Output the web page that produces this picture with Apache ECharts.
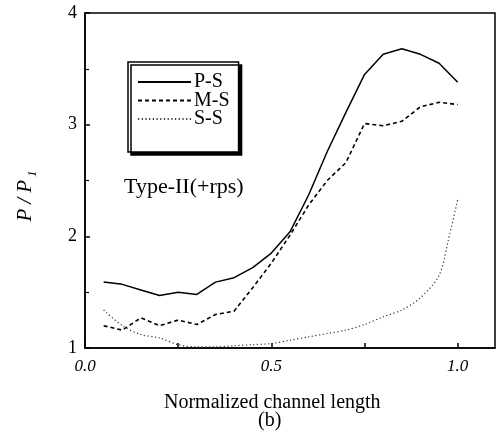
<!DOCTYPE html>
<html><head><meta charset="utf-8">
<script src="https://cdn.jsdelivr.net/npm/echarts@6/dist/echarts.min.js"></script>
<style>html,body{margin:0;padding:0;background:#fff}#c{width:501px;height:438px}</style>
</head><body><div id="c"></div>
<script>
const xPS = [0.05,0.1,0.15,0.2,0.25,0.3,0.35,0.4,0.45,0.5,0.55,0.6,0.65,0.7,0.75,0.8,0.85,0.9,0.95,1.0];
const valPS = [1.59,1.57,1.52,1.47,1.50,1.48,1.59,1.63,1.72,1.85,2.04,2.37,2.76,3.11,3.45,3.63,3.68,3.63,3.55,3.38];
const xMS = [0.05,0.1,0.15,0.2,0.25,0.3,0.35,0.4,0.45,0.5,0.55,0.6,0.65,0.7,0.75,0.8,0.85,0.9,0.95,1.0];
const valMS = [1.20,1.16,1.27,1.20,1.25,1.21,1.30,1.33,1.54,1.76,2.01,2.28,2.50,2.66,3.01,2.99,3.03,3.16,3.20,3.18];
const xSS = [0.05,0.1,0.15,0.2,0.25,0.3,0.35,0.4,0.45,0.5,0.55,0.6,0.65,0.7,0.75,0.8,0.85,0.9,0.95,0.975,1.0];
const valSS = [1.34,1.20,1.12,1.09,1.03,1.01,1.01,1.02,1.03,1.04,1.07,1.10,1.13,1.16,1.21,1.28,1.34,1.45,1.65,1.97,2.33];
const seriesNames = ['P-S','M-S','S-S'];
const xTickLabels = {0:'0.0',0.5:'0.5',1:'1.0'};
const yTickLabels = ['1','2','3','4'];
const annotation = 'Type-II(+rps)';
const xTitle = 'Normalized channel length';
const subTitle = '(b)';

const pairs = (xs, ys) => xs.map((x,i)=>[x, ys[i]]);
const serif = 'Liberation Serif';
const chart = echarts.init(document.getElementById('c'), null, {renderer:'canvas'});
chart.setOption({
  animation:false,
  backgroundColor:'#fff',
  grid:{left:85, right:6, top:13, bottom:90, show:true, borderColor:'#000', borderWidth:1.5},
  title:[
    {text:annotation, left:124, top:176, padding:0, textStyle:{fontFamily:serif, fontSize:22, fontWeight:'normal', color:'#000'}},
    {text:xTitle, left:164, top:393, padding:0, textStyle:{fontFamily:serif, fontSize:20, fontWeight:'normal', color:'#000'}},
    {text:subTitle, left:258, top:411, padding:0, textStyle:{fontFamily:serif, fontSize:20, fontWeight:'normal', color:'#000'}}
  ],
  legend:{
    left:128, top:62, orient:'vertical',
    data:seriesNames,
    itemWidth:53, itemHeight:14, itemGap:-1.5,
    padding:[10,9,23,9],
    itemStyle:{opacity:0},
    backgroundColor:'#fff', borderColor:'#000', borderWidth:1.5,
    shadowColor:'#000', shadowBlur:0, shadowOffsetX:3, shadowOffsetY:3,
    textStyle:{fontFamily:serif, fontSize:20, lineHeight:18, color:'#000', padding:[0,0,0,-2]}
  },
  xAxis:{
    type:'value', min:0, max:1.1, interval:0.25,
    axisLine:{show:true, lineStyle:{color:'#000', width:1.5}},
    axisTick:{show:true, inside:true, length:5, lineStyle:{color:'#000', width:1.5}},
    splitLine:{show:false},
    axisLabel:{fontFamily:serif, fontStyle:'italic', fontSize:17, color:'#000', margin:10,
      showMaxLabel:false,
      formatter:v=>{const k=Math.round(v*100)/100; return xTickLabels[k]!==undefined?xTickLabels[k]:'';}}
  },
  yAxis:{
    type:'value', min:1, max:4, interval:1,
    name:'{a|P}{s|/}{a|P}{b|1}', nameLocation:'middle', nameGap:46, nameRotate:90,
    nameTextStyle:{padding:[0,31,0,0], rich:{
      a:{fontFamily:serif, fontStyle:'italic', fontSize:21, color:'#000'},
      s:{fontFamily:serif, fontStyle:'italic', fontSize:21, color:'#000', padding:[0,5,0,5]},
      b:{fontFamily:serif, fontStyle:'italic', fontSize:13, color:'#000', padding:[14,0,0,3]}
    }},
    axisLine:{show:true, lineStyle:{color:'#000', width:1.5}},
    axisTick:{show:true, inside:true, length:5, lineStyle:{color:'#000', width:1.5}},
    minorTick:{show:true, splitNumber:2, length:4, lineStyle:{color:'#000', width:1.2}},
    splitLine:{show:false},
    axisLabel:{fontFamily:serif, fontSize:18, color:'#000', margin:8,
      formatter:v=>yTickLabels[Math.round(v)-1]||''}
  },
  series:[
    {name:seriesNames[0], type:'line', data:pairs(xPS,valPS), showSymbol:false, symbol:'none', lineStyle:{color:'#000', width:1.5, type:'solid'}, itemStyle:{color:'#000'}},
    {name:seriesNames[1], type:'line', data:pairs(xMS,valMS), showSymbol:false, symbol:'none', lineStyle:{color:'#000', width:1.6, type:[4,3]}, itemStyle:{color:'#000'}},
    {name:seriesNames[2], type:'line', data:pairs(xSS,valSS), showSymbol:false, symbol:'none', smooth:0.3, lineStyle:{color:'#333', width:1.2, type:[1.2,2.5]}, itemStyle:{color:'#000'}}
  ]
});
</script></body></html>
